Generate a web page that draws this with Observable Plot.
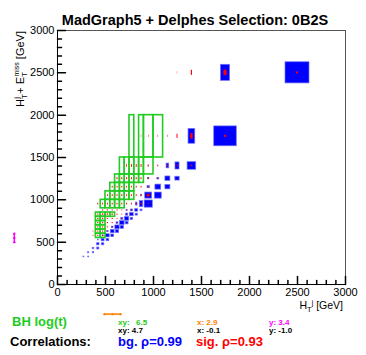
<!DOCTYPE html>
<html><head><meta charset="utf-8">
<script src="https://cdn.jsdelivr.net/npm/d3@7"></script>
<script src="https://cdn.jsdelivr.net/npm/@observablehq/plot@0.6"></script>
<style>
body{margin:0;background:#fff;}
#wrap{position:relative;width:366px;height:355px;overflow:hidden;font-family:"Liberation Sans",Arial,Helvetica,sans-serif;}
#wrap svg{position:absolute;left:0;top:0;}
</style></head><body><div id="wrap"></div>
<script>
// bin edges (GeV) of the 2D histograms
const xEdges = [250,300,350,400,450,500,550,600,650,700,750,800,850,900,1000,1100,1200,1300,1500,2000,3000];
const yEdges = [250,300,350,400,450,500,550,600,650,700,750,800,850,900,1000,1100,1200,1300,1500,2000,3000];
const xMajor = [0,500,1000,1500,2000,2500,3000];
const yMajor = [0,500,1000,1500,2000,2500,3000];
const xMinor = [100,200,300,400,600,700,800,900,1100,1200,1300,1400,1600,1700,1800,1900,2100,2200,2300,2400,2600,2700,2800,2900];
const yMinor = [100,200,300,400,600,700,800,900,1100,1200,1300,1400,1600,1700,1800,1900,2100,2200,2300,2400,2600,2700,2800,2900];

// background: [HT bin, HT+MET bin, relative content]
const bgBins = [
 [275,325,0.2],
 [325,325,0.2],[325,375,0.25],
 [375,375,0.3],[375,425,0.35],
 [425,425,0.45],[425,475,0.5],[425,525,0.2],
 [475,475,0.5],[475,525,0.6],[475,575,0.25],
 [525,525,0.55],[525,575,0.75],[525,625,0.3],
 [575,575,0.6],[575,625,0.8],[575,675,0.35],
 [625,625,0.7],[625,675,0.9],[625,725,0.4],
 [675,675,0.7],[675,725,0.95],[675,775,0.45],
 [725,725,0.6],[725,775,0.9],[725,825,0.5],[725,875,0.25],
 [775,775,0.5],[775,825,0.75],[775,875,0.45],
 [825,825,0.45],[825,875,0.6],[825,950,0.35],
 [875,875,0.4],[875,950,0.7],[875,1050,0.2],
 [950,950,0.85],[950,1050,0.72],[950,1150,0.25],[950,1250,0.15],
 [1050,1050,0.72],[1050,1150,0.6],[1050,1250,0.2],
 [1150,1150,0.52],[1150,1250,0.52],[1150,1400,0.28],
 [1250,1250,0.45],[1250,1400,0.42],
 [1400,1400,0.45],[1400,1750,0.35],
 [1750,1750,0.47],[1750,2500,0.19],
 [2500,2500,0.25]
];
// signal
const sigBins = [
 [375,575,0.2],[425,575,0.25],[475,575,0.25],
 [375,625,0.2],[425,625,0.25],[475,625,0.25],[525,625,0.2],
 [425,675,0.25],[475,675,0.25],[525,675,0.25],[575,675,0.2],
 [425,725,0.25],[475,725,0.25],[525,725,0.25],[575,725,0.25],[625,725,0.2],
 [425,775,0.25],[475,775,0.25],[525,775,0.25],[575,775,0.25],[625,775,0.2],[675,775,0.2],
 [425,825,0.25],[475,825,0.3],[525,825,0.3],[575,825,0.3],[625,825,0.25],[675,825,0.2],[725,825,0.2],
 [475,875,0.25],[525,875,0.25],[575,875,0.25],[625,875,0.25],[675,875,0.2],[725,875,0.2],[775,875,0.2],
 [425,950,0.2],[475,950,0.2],[525,950,0.2],[575,950,0.2],[625,950,0.2],[675,950,0.2],[725,950,0.2],[775,950,0.2],[825,950,0.2],[875,950,0.2],[950,950,0.12],
 [525,1050,0.2],[575,1050,0.2],[625,1050,0.2],[675,1050,0.2],[725,1050,0.2],[775,1050,0.2],[825,1050,0.2],[875,1050,0.2],[950,1050,0.3],
 [575,1150,0.2],[625,1150,0.2],[675,1150,0.2],[725,1150,0.2],[775,1150,0.2],[825,1150,0.2],[875,1150,0.2],[950,1150,0.15],
 [625,1250,0.22],[675,1250,0.22],[725,1250,0.22],[775,1250,0.22],[825,1250,0.22],[875,1250,0.22],[950,1250,0.15],[1050,1250,0.12],
 [725,1400,0.16],[775,1400,0.18],[825,1400,0.18],[875,1400,0.18],[950,1400,0.12],[1050,1400,0.1],[1150,1400,0.1],[1250,1400,0.1],[1400,1400,0.08],
 [875,1750,0.07],[950,1750,0.05],[1050,1750,0.05],[1150,1750,0.05],[1250,1750,0.1],[1400,1750,0.13],[1750,1750,0.045],
 [1250,2500,0.03],[1400,2500,0.06],[1750,2500,0.065],[2500,2500,0.022]
];
// black hole log(t)
const bhBins = [
 [775,1750,1],[875,1750,1],[950,1750,1],[1050,1750,1],
 [675,1400,1],[725,1400,1],[775,1400,1],[825,1400,1],[875,1400,1],[950,1400,1],
 [625,1250,1],[675,1250,1],[725,1250,1],[775,1250,1],[825,1250,1],[875,1250,1],
 [575,1150,1],[625,1150,1],[675,1150,1],[725,1150,1],[775,1150,1],
 [525,1050,1],[575,1050,1],[625,1050,1],[675,1050,1],[725,1050,1],[775,1050,1],
 [475,950,1],[525,950,1],[575,950,1],[625,950,1],[675,950,1],
 [425,825,1],[475,825,1],[525,825,1],[575,825,1],
 [425,775,1],[475,775,1],[425,725,1],[475,725,1],[425,675,1],[475,675,1],
 [425,625,1],[475,625,1],[425,575,1],[475,575,1]
];
// projection means (mean ± error), drawn outside the frame
const yMeanMarker = {x: -450, y: 550, err: 50};
const xMeanMarker = {y: -350, x: 573, err: 83};

function binOf(edges, v){
  for (let i = 0; i < edges.length - 1; i++) if (v >= edges[i] && v < edges[i+1]) return [edges[i], edges[i+1]];
  return [v, v];
}
function boxes(list){
  return list.map(([x, y, f]) => {
    const [a, b] = binOf(xEdges, x), [c, d] = binOf(yEdges, y);
    const cx = (a + b) / 2, cy = (c + d) / 2, hw = (b - a) * f / 2, hh = (d - c) * f / 2;
    return {x1: cx - hw, x2: cx + hw, y1: cy - hh, y2: cy + hh};
  });
}
const bg = boxes(bgBins), sig = boxes(sigBins), bh = boxes(bhBins);
const rectOpts = {x1: "x1", x2: "x2", y1: "y1", y2: "y2"};
const tickShape = {draw(context, l) { context.moveTo(0, 0); context.lineTo(0, -l); }};

const chart = Plot.plot({
  width: 366, height: 355,
  marginLeft: 57, marginRight: 21, marginTop: 30, marginBottom: 71,
  x: {domain: [0, 3000]},
  y: {domain: [0, 3000]},
  style: {fontFamily: "Liberation Sans, Arial, sans-serif", fontSize: "11px", color: "black", background: "white"},
  marks: [
    Plot.rect(bg, {...rectOpts, fill: "#0000ff", stroke: "#7373ff", strokeWidth: 0.7}),
    Plot.rect(sig, {...rectOpts, fill: "#ff0000"}),
    Plot.rect(bh, {...rectOpts, fill: "none", stroke: "#22cc22", strokeWidth: 1.6}),
    Plot.frame({stroke: "#555"}),
    Plot.ruleX([0], {stroke: "black"}),
    Plot.ruleY([0], {stroke: "black"}),
    Plot.axisX({ticks: xMajor, tickSize: 0, tickPadding: 4, label: null, tickFormat: d => String(d)}),
    Plot.axisY({ticks: yMajor, tickSize: 0, tickPadding: 3, label: null, tickFormat: d => String(d)}),
    Plot.vector(xMajor, {x: d => d, frameAnchor: "bottom", length: 8, rotate: 0, anchor: "start", shape: tickShape, stroke: "black"}),
    Plot.vector(xMinor, {x: d => d, frameAnchor: "bottom", length: 4, rotate: 0, anchor: "start", shape: tickShape, stroke: "black"}),
    Plot.vector(yMajor, {y: d => d, frameAnchor: "left", length: 8, rotate: 90, anchor: "start", shape: tickShape, stroke: "black"}),
    Plot.vector(yMinor, {y: d => d, frameAnchor: "left", length: 4, rotate: 90, anchor: "start", shape: tickShape, stroke: "black"}),
    Plot.ruleX([yMeanMarker], {x: "x", y1: d => d.y - d.err, y2: d => d.y + d.err, stroke: "#ff00ff", strokeWidth: 1.5}),
    Plot.dot([yMeanMarker], {x: "x", y: d => d.y - d.err, r: 1.2, fill: "#ff00ff"}),
    Plot.dot([yMeanMarker], {x: "x", y: d => d.y + d.err, r: 1.2, fill: "#ff00ff"}),
    Plot.dot([yMeanMarker], {x: "x", y: "y", r: 1.2, fill: "#ff00ff"}),
    Plot.ruleY([xMeanMarker], {y: "y", x1: d => d.x - d.err, x2: d => d.x + d.err, stroke: "#ff7f00", strokeWidth: 1.5}),
    Plot.dot([xMeanMarker], {y: "y", x: d => d.x - d.err, r: 1.2, fill: "#ff7f00"}),
    Plot.dot([xMeanMarker], {y: "y", x: d => d.x + d.err, r: 1.2, fill: "#ff7f00"}),
    Plot.dot([xMeanMarker], {y: "y", x: "x", r: 1.2, fill: "#ff7f00"})
  ]
});
const wrap = document.getElementById("wrap");
wrap.appendChild(chart);

const overlay = `<svg width="366" height="355" style="pointer-events:none" font-family="Liberation Sans, Arial, sans-serif">
<text x="195" y="25" text-anchor="middle" font-weight="bold" font-size="14.5">MadGraph5 + Delphes Selection: 0B2S</text>
<text transform="translate(24,31) rotate(-90)" text-anchor="end" font-size="11">H<tspan font-size="8" dy="3">T</tspan><tspan font-size="8" dx="-4.5" dy="-8">j</tspan><tspan dy="5"> + E</tspan><tspan font-size="8" dy="3">T</tspan><tspan font-size="7" dx="-4.5" dy="-8">miss</tspan><tspan dy="5"> [GeV]</tspan></text>
<text x="343" y="309" text-anchor="end" font-size="10.5">H<tspan font-size="7.5" dy="2.5">T</tspan><tspan font-size="7" dy="-7">j</tspan><tspan dy="4.5"> [GeV]</tspan></text>
<text x="12" y="326" font-size="13" font-weight="bold" fill="#22cc22">BH log(t)</text>
<g font-size="8" font-weight="bold">
<text x="118" y="325" fill="#22cc22">xy:</text><text x="136" y="325" fill="#22cc22">6.5</text>
<text x="197" y="325" fill="#ff7f00">x: 2.9</text>
<text x="269" y="325" fill="#ff00ff">y: 3.4</text>
<text x="118" y="333" fill="black">xy: 4.7</text>
<text x="197" y="333" fill="black">x: -0.1</text>
<text x="269" y="333" fill="black">y: -1.0</text>
</g>
<text x="10" y="346" font-size="13" font-weight="bold" fill="black">Correlations:</text>
<text x="118" y="346" font-size="13" font-weight="bold" fill="#0000ff">bg. ρ=0.99</text>
<text x="196" y="346" font-size="13" font-weight="bold" fill="#ff0000">sig. ρ=0.93</text>
</svg>`;
wrap.insertAdjacentHTML("beforeend", overlay);
</script>
</body></html>
